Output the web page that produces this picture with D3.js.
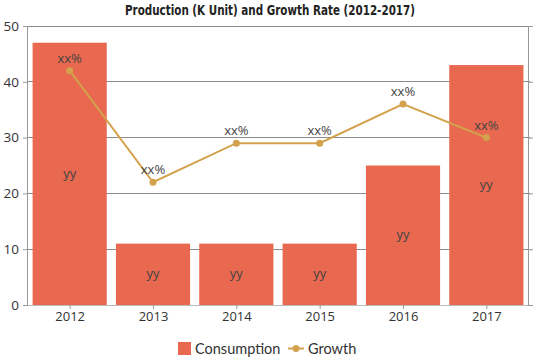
<!DOCTYPE html>
<html><head><meta charset="utf-8">
<script src="https://cdn.jsdelivr.net/npm/d3@7/dist/d3.min.js"></script>
<style>body{margin:0;background:#fff}svg{display:block}</style>
</head><body><svg id="c" width="539" height="359"></svg>
<script>
const categories = ["2012","2013","2014","2015","2016","2017"];
const consumption = [47, 11, 11, 11, 25, 43];
const growth = [42, 22, 29, 29, 36, 30];
const barLabels = ["yy","yy","yy","yy","yy","yy"];
const growthLabels = ["xx%","xx%","xx%","xx%","xx%","xx%"];
const yTicks = [0,10,20,30,40,50];

const svg = d3.select("#c");
const m = {l:28, r:11, t:26, b:54};
const W = 539, H = 359;
const x = d3.scaleBand().domain(categories).range([m.l, W-m.r]).paddingInner(0.11).paddingOuter(0.055);
const xc = d3.scalePoint().domain(categories).range([m.l, W-m.r]).padding(0.5);
const y = d3.scaleLinear().domain([0,50]).range([H-m.b, m.t]);
const font = "'Open Sans', 'DejaVu Sans', sans-serif";

// gridlines
svg.append("g").selectAll("line").data(yTicks.filter(d=>d>0)).join("line")
  .attr("x1", m.l).attr("x2", W-m.r+2).attr("y1", d=>y(d)).attr("y2", d=>y(d))
  .attr("stroke","#8c8c8c").attr("stroke-width",1).attr("shape-rendering","crispEdges");

// left axis
const ya = svg.append("g").attr("transform",`translate(${m.l},0)`)
  .call(d3.axisLeft(y).tickValues(yTicks).tickSize(5).tickPadding(4));
ya.select(".domain").attr("stroke","#999").attr("d",`M-0.5,${y(0)}V${y(50)}`);
ya.selectAll(".tick line").attr("stroke","#999");
ya.selectAll("text").attr("font-family",font).attr("font-size",13.5).attr("fill","#333");

// right axis (no labels)
const ra = svg.append("g").attr("transform",`translate(${W-m.r},0)`)
  .call(d3.axisRight(y).tickValues(yTicks).tickSize(5).tickFormat(""));
ra.select(".domain").attr("stroke","#999").attr("d",`M0.5,${y(0)}V${y(50)}`);
ra.selectAll(".tick line").attr("stroke","#999");

// bars
svg.append("g").selectAll("rect").data(categories).join("rect")
  .attr("x", d=>x(d)).attr("width", x.bandwidth())
  .attr("y", (d,i)=>y(consumption[i])).attr("height",(d,i)=>y(0)-y(consumption[i]))
  .attr("fill","#e8694f");

// x axis
const xa = svg.append("g").attr("transform",`translate(0,${y(0)})`)
  .call(d3.axisBottom(xc).tickSize(4).tickPadding(3));
xa.select(".domain").attr("stroke","#bbb").attr("d",`M${m.l},0.5H${W-m.r}`);
xa.selectAll(".tick line").attr("stroke","#999");
xa.selectAll("text").attr("font-family",font).attr("font-size",13).attr("fill","#333");

// bar labels
svg.append("g").selectAll("text").data(categories).join("text")
  .attr("x", d=>xc(d)).attr("y",(d,i)=>(y(consumption[i])+y(0))/2+4)
  .attr("text-anchor","middle").attr("font-family",font)
  .attr("font-size",13).attr("fill","#444").text((d,i)=>barLabels[i]);

// growth line
const line = d3.line().x((d,i)=>xc(categories[i])).y(d=>y(d));
svg.append("path").datum(growth).attr("d",line).attr("fill","none")
  .attr("stroke","#d4a24c").attr("stroke-width",2);
svg.append("g").selectAll("circle").data(growth).join("circle")
  .attr("cx",(d,i)=>xc(categories[i])).attr("cy",d=>y(d)).attr("r",3.5).attr("fill","#d4a24c");
svg.append("g").selectAll("text").data(growth).join("text")
  .attr("x",(d,i)=>xc(categories[i])).attr("y",d=>y(d)-8)
  .attr("text-anchor","middle").attr("font-family",font)
  .attr("font-size",13).attr("fill","#444").text((d,i)=>growthLabels[i]);

// title
svg.append("text").attr("x",125).attr("y",15)
  .attr("font-family","'DejaVu Sans Condensed','Liberation Sans Narrow','DejaVu Sans',sans-serif")
  .attr("font-weight",900).attr("font-size",14).attr("fill","#222")
  .attr("textLength",290).attr("lengthAdjust","spacingAndGlyphs")
  .text("Production (K Unit) and Growth Rate (2012-2017)");

// legend
const lg = svg.append("g");
lg.append("rect").attr("x",178).attr("y",342).attr("width",13).attr("height",13).attr("fill","#e8694f");
lg.append("text").attr("x",195).attr("y",353.5).attr("font-family","Lato, 'Open Sans', sans-serif")
  .attr("font-size",14.5).attr("fill","#333").text("Consumption");
lg.append("line").attr("x1",288).attr("x2",304).attr("y1",348.5).attr("y2",348.5).attr("stroke","#d4a24c").attr("stroke-width",2);
lg.append("circle").attr("cx",296).attr("cy",348.5).attr("r",3.5).attr("fill","#d4a24c");
lg.append("text").attr("x",308).attr("y",353.5).attr("font-family","Lato, 'Open Sans', sans-serif")
  .attr("font-size",14.5).attr("fill","#333").text("Growth");
</script></body></html>
